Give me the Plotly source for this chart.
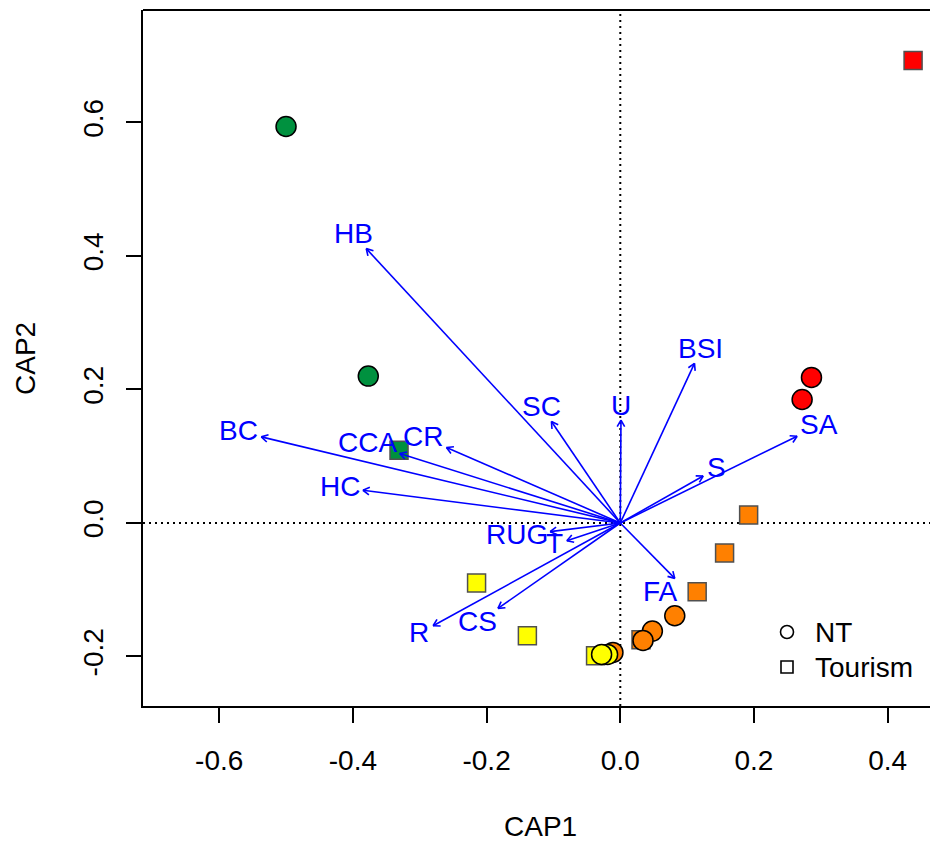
import math
import plotly.graph_objects as go

# ---------------- data ----------------
# site scores (CAP1, CAP2)
tourism_x = [0.438, -0.331, 0.192, 0.156, 0.115, 0.031, -0.215, -0.139, -0.037]
tourism_y = [0.693, 0.109, 0.012, -0.045, -0.103, -0.175, -0.090, -0.169, -0.199]
tourism_col = ["#FF0000", "#00913F", "#FF8000", "#FF8000", "#FF8000", "#FF8000",
               "#FFFF00", "#FFFF00", "#FFFF00"]

nt_x = [-0.500, -0.377, 0.286, 0.272, 0.0815, 0.048, 0.034, -0.011, -0.019, -0.028]
nt_y = [0.594, 0.220, 0.218, 0.185, -0.139, -0.162, -0.176, -0.194, -0.197, -0.197]
nt_col = ["#00913F", "#00913F", "#FF0000", "#FF0000", "#FF8000", "#FF8000",
          "#FF8000", "#FF8000", "#FFFF00", "#FFFF00"]

# fitted environmental vectors (arrow tips)
vec_names = ["HB", "BC", "HC", "CCA", "CR", "SC", "U", "RUG", "T", "CS", "R",
             "FA", "BSI", "S", "SA"]
vec_x = [-0.380, -0.537, -0.385, -0.330, -0.260, -0.103, 0.001, -0.105, -0.080,
         -0.183, -0.280, 0.0815, 0.111, 0.124, 0.2645]
vec_y = [0.411, 0.129, 0.049, 0.104, 0.113, 0.152, 0.154, -0.013, -0.0265,
         -0.128, -0.154, -0.083, 0.239, 0.0704, 0.130]

x_ticks = [-0.6, -0.4, -0.2, 0.0, 0.2, 0.4]
x_ticklabels = ["-0.6", "-0.4", "-0.2", "0.0", "0.2", "0.4"]
y_ticks = [-0.2, 0.0, 0.2, 0.4, 0.6]
y_ticklabels = ["-0.2", "0.0", "0.2", "0.4", "0.6"]

legend_names = ["NT", "Tourism"]

# ---------------- layout geometry ----------------
W, H = 930, 841
ML, MR, MT, MB = 143, 0, 10, 135
XR = [-0.714, 0.4633]
YR = [-0.2742, 0.7685]
pw = W - ML - MR
ph = H - MT - MB
px_per_x = pw / (XR[1] - XR[0])
px_per_y = ph / (YR[1] - YR[0])

FONT = "Liberation Sans, Arial, sans-serif"
FS = 28
BLUE = "#0000FF"

# ---------------- arrows (lines + open heads) ----------------
ax_, ay_ = [], []
head_len = 7.5  # px
ang = math.radians(30)
for x, y in zip(vec_x, vec_y):
    ax_ += [0, x, None]
    ay_ += [0, y, None]
    dx, dy = x * px_per_x, y * px_per_y
    n = math.hypot(dx, dy)
    ux, uy = dx / n, dy / n
    for s in (1, -1):
        rx = ux * math.cos(s * ang) - uy * math.sin(s * ang)
        ry = ux * math.sin(s * ang) + uy * math.cos(s * ang)
        ax_ += [x - head_len * rx / px_per_x, x, None]
        ay_ += [y - head_len * ry / px_per_y, y, None]

# ---------------- label placement (vegan ordiArrowTextXY) ----------------
LAB_FS = 26  # metric size used for the placement rule
char_w = {"H": .722, "B": .667, "C": .722, "A": .667, "R": .722, "S": .667,
          "U": .722, "G": .778, "T": .611, "F": .611, "I": .278}
lab_x, lab_y = [], []
for name, x, y in zip(vec_names, vec_x, vec_y):
    w = sum(char_w[c] for c in name) * LAB_FS / px_per_x
    h = 0.716 * LAB_FS / px_per_y
    offx = math.copysign(1, x) * (w / 2 + h / 4)
    offy = 0.75 * h * math.copysign(1, y)
    b = y / x if x != 0 else float("inf")
    move = offy / b if b != 0 else float("inf")
    if math.isfinite(move) and abs(move) <= abs(offx):
        offx = move
    else:
        offy = b * offx
    lab_x.append(x + offx)
    lab_y.append(y + offy)

# manual label nudges (pixels), as in the original figure
label_nudge = {"FA": (-28, 0)}

fig = go.Figure()

fig.add_trace(go.Scatter(x=tourism_x, y=tourism_y, mode="markers",
                         marker=dict(symbol="square", size=18, color=tourism_col,
                                     line=dict(color="#505050", width=1.5)),
                         showlegend=False))
fig.add_trace(go.Scatter(x=nt_x, y=nt_y, mode="markers",
                         marker=dict(symbol="circle", size=20, color=nt_col,
                                     line=dict(color="black", width=1.5)),
                         showlegend=False))

fig.add_trace(go.Scatter(x=ax_, y=ay_, mode="lines",
                         line=dict(color=BLUE, width=1.6),
                         showlegend=False, hoverinfo="skip"))

annotations = []
for name, lx, ly in zip(vec_names, lab_x, lab_y):
    nx, ny = label_nudge.get(name, (0, 0))
    annotations.append(dict(text=name, x=lx, y=ly, xref="x", yref="y",
                            showarrow=False, xanchor="center", yanchor="middle",
                            xshift=nx, yshift=ny + 1,
                            font=dict(family=FONT, size=FS, color=BLUE)))

annotations += [
    dict(text="CAP1", xref="paper", yref="paper", x=(540 - ML) / pw,
         y=-(826 - (H - MB)) / ph, xanchor="center", yanchor="middle",
         showarrow=False, font=dict(family=FONT, size=FS, color="black")),
    dict(text="CAP2", xref="paper", yref="paper", x=-(ML - 25) / pw,
         y=0.5, xanchor="center", yanchor="middle", textangle=-90,
         showarrow=False, font=dict(family=FONT, size=FS, color="black")),
]

# manual legend (R-style, no box)
leg_sym_x = (787 - ML) / pw
leg_txt_x = (813 - ML) / pw
leg_ys = [(H - MB - 632) / ph, (H - MB - 667) / ph]
shapes = [
    dict(type="line", xref="x", yref="paper", x0=0, x1=0, y0=0, y1=1,
         line=dict(color="black", width=2, dash="2px,4px"), layer="below"),
    dict(type="line", xref="paper", yref="y", x0=0, x1=1, y0=0, y1=0,
         line=dict(color="black", width=2, dash="2px,4px"), layer="below"),
    dict(type="line", xref="paper", yref="paper", x0=0, x1=1, y0=1, y1=1,
         line=dict(color="black", width=2)),
]
for i, (nm, ly) in enumerate(zip(legend_names, leg_ys)):
    shapes.append(dict(type="circle" if i == 0 else "rect",
                       xref="paper", yref="paper", xsizemode="pixel", ysizemode="pixel",
                       xanchor=leg_sym_x, yanchor=ly,
                       x0=-6.5 if i == 0 else -6, x1=6.5 if i == 0 else 6,
                       y0=-6.5 if i == 0 else -6, y1=6.5 if i == 0 else 6,
                       line=dict(color="black", width=1.6), fillcolor="rgba(0,0,0,0)"))
    annotations.append(dict(text=nm, xref="paper", yref="paper", x=leg_txt_x, y=ly,
                            xanchor="left", yanchor="middle", showarrow=False,
                            font=dict(family=FONT, size=FS, color="black")))

axis_common = dict(showgrid=False, zeroline=False, showline=True, linecolor="black",
                   linewidth=2, ticks="outside", ticklen=15, tickwidth=2,
                   tickcolor="black", tickfont=dict(family=FONT, size=FS, color="black"))

fig.update_xaxes(range=XR, tickvals=x_ticks, ticktext=x_ticklabels,
                 ticklabelstandoff=13, **axis_common)
fig.update_yaxes(range=YR, tickvals=y_ticks, ticktext=y_ticklabels, tickangle=-90,
                 ticklabelstandoff=12, **axis_common)

fig.update_layout(
    width=W, height=H,
    margin=dict(l=ML, r=MR, t=MT, b=MB, pad=0),
    plot_bgcolor="white", paper_bgcolor="white",
    font=dict(family=FONT, size=FS, color="black"),
    showlegend=False,
    shapes=shapes,
    annotations=annotations,
)

fig.write_html("out.html")
